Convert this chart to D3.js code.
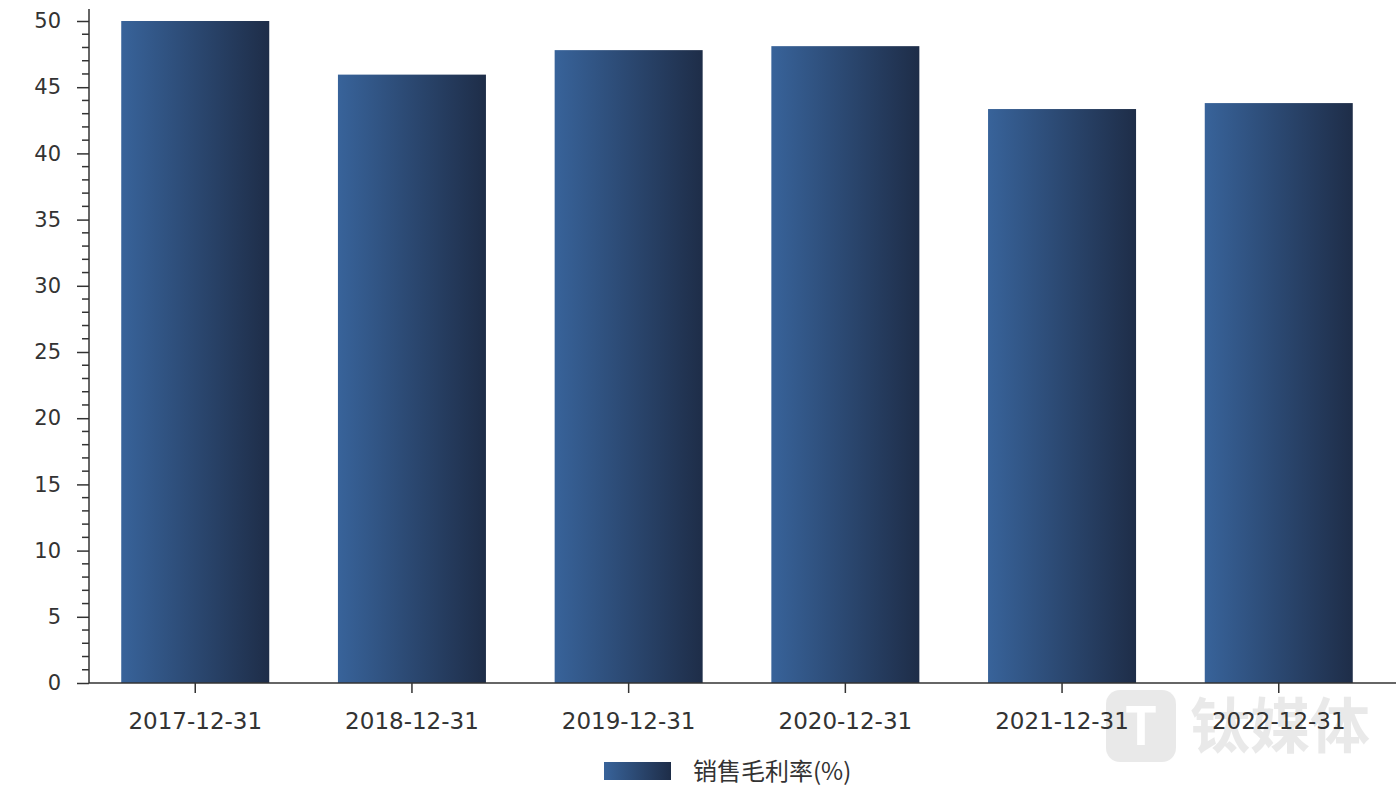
<!DOCTYPE html>
<html>
<head>
<meta charset="utf-8">
<script src="https://cdn.jsdelivr.net/npm/d3@7"></script>
<style>
  body { margin: 0; background: #fff; }
  svg text { font-family: "DejaVu Sans", sans-serif; fill: #333; }
  svg text.cjk { font-family: "Noto Sans CJK SC", sans-serif; }
</style>
</head>
<body>
<svg id="chart"></svg>
<script>
const categories = ["2017-12-31", "2018-12-31", "2019-12-31", "2020-12-31", "2021-12-31", "2022-12-31"];
const values = [50.0, 45.95, 47.8, 48.1, 43.35, 43.8];
const yTicks = [0, 5, 10, 15, 20, 25, 30, 35, 40, 45, 50];
const seriesName = "销售毛利率(%)";

const width = 1400;
const height = 791;

const svg = d3.select("#chart")
              .attr("width", width)
              .attr("height", height);

const defs = svg.append("defs");
const grad = defs.append("linearGradient")
                 .attr("id", "barGrad")
                 .attr("x1", "0%").attr("x2", "100%")
                 .attr("y1", "0%").attr("y2", "0%");
grad.append("stop").attr("offset", "0%").attr("stop-color", "#38639a");
grad.append("stop").attr("offset", "100%").attr("stop-color", "#1e2d48");

// watermark
const wm = svg.append("g").attr("opacity", 0.12);
wm.append("rect")
  .attr("x", 1106).attr("y", 690)
  .attr("width", 70).attr("height", 72)
  .attr("rx", 14)
  .attr("fill", "#555");
wm.append("text")
  .attr("class", "cjk")
  .attr("x", 1141).attr("y", 745)
  .attr("text-anchor", "middle")
  .style("font-size", "52px")
  .style("font-weight", "bold")
  .style("fill", "#fff")
  .text("T");
wm.append("text")
  .attr("class", "cjk")
  .attr("x", 1190).attr("y", 748)
  .style("font-size", "60px")
  .style("font-weight", "bold")
  .style("fill", "#555")
  .text("钛媒体");

const xScale = d3.scaleBand()
                 .domain(categories)
                 .range([87, 1387])
                 .paddingInner(0.317)
                 .paddingOuter(0.158);

const yScale = d3.scaleLinear()
                 .domain([0, 50])
                 .range([683, 21]);

// bars
svg.selectAll(".bar")
   .data(values)
   .enter()
   .append("rect")
   .attr("class", "bar")
   .attr("x", (d, i) => xScale(categories[i]))
   .attr("y", d => yScale(d))
   .attr("width", xScale.bandwidth())
   .attr("height", d => yScale(0) - yScale(d))
   .attr("fill", "url(#barGrad)");

// y axis
const yAxis = d3.axisLeft(yScale)
                .tickValues(yTicks)
                .tickSize(12)
                .tickPadding(16);

const yg = svg.append("g")
              .attr("transform", "translate(89,0)")
              .call(yAxis);

// minor ticks
const minor = d3.range(0, 51).filter(v => v % 5 !== 0);
yg.selectAll(".minor")
  .data(minor)
  .enter()
  .append("line")
  .attr("class", "minor")
  .attr("x1", -7).attr("x2", 0)
  .attr("y1", d => yScale(d)).attr("y2", d => yScale(d))
  .attr("stroke", "#333")
  .attr("stroke-width", 1.5);

yg.select(".domain").attr("stroke", "#333").attr("stroke-width", 1.5)
  .attr("d", "M0,9V683");
yg.selectAll(".tick line").attr("stroke", "#333").attr("stroke-width", 1.5);
yg.selectAll(".tick text").style("font-size", "21px");

// x axis
const xAxis = d3.axisBottom(xScale)
                .tickSizeInner(10)
                .tickSizeOuter(0)
                .tickPadding(20);

const xg = svg.append("g")
              .attr("transform", "translate(0,683)")
              .call(xAxis);

xg.select(".domain").attr("stroke", "#333").attr("stroke-width", 1.5)
  .attr("d", "M89,0H1396");
xg.selectAll(".tick line").attr("stroke", "#333").attr("stroke-width", 1.5);
xg.selectAll(".tick text").style("font-size", "23px");

// legend
const legend = svg.append("g").attr("transform", "translate(604,762)");
legend.append("rect")
      .attr("width", 67).attr("height", 18)
      .attr("fill", "url(#barGrad)");
legend.append("text")
      .attr("class", "cjk")
      .attr("x", 89).attr("y", 10)
      .attr("dy", "0.35em")
      .style("font-size", "24px")
      .text(seriesName);
</script>
</body>
</html>
